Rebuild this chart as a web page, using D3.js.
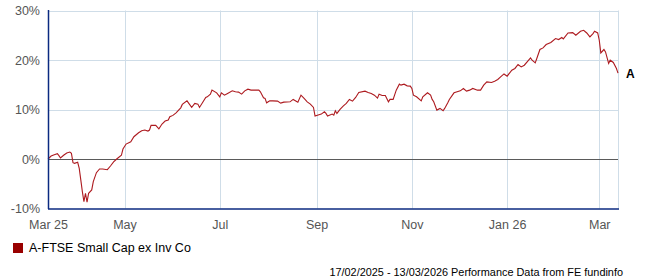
<!DOCTYPE html>
<html>
<head>
<meta charset="utf-8">
<script src="https://cdn.jsdelivr.net/npm/d3@7"></script>
<style>
  body { margin: 0; background: #fff; }
  svg text { font-family: Arial, "Liberation Sans", sans-serif; }
</style>
</head>
<body>
<div id="chart"></div>
<script>
// series: days since start date, cumulative performance %
var startDate = new Date(2025, 2, 13);
var endDate = new Date(2026, 2, 13);

var dayOffsets = [0, 2, 4, 6, 7, 8, 10, 12, 14, 15, 16, 17, 19, 20, 21, 22, 23, 24, 25, 26, 28, 29, 31, 33, 35, 38, 40, 42, 44, 47,
  48, 50, 53, 55, 58, 60, 62, 64, 65, 66, 69, 71, 73, 75, 77, 78, 80, 82, 85, 86, 89, 92, 94, 96, 97, 99, 101, 102, 104, 105, 108, 110,
  111, 113, 115, 118, 120, 122, 124, 126, 128, 130, 135, 136, 138, 139, 140, 142, 144, 147, 149, 151, 155, 157, 160, 162, 164, 166, 168, 170,
  171, 173, 175, 177, 178, 179, 182, 183, 184, 185, 187, 189, 191, 193, 195, 197, 199, 203, 205, 207, 209, 211, 212, 214, 216, 218, 219, 221, 223, 225, 226, 228, 230, 232,
  233, 234, 236, 239, 240, 243, 245, 246, 247, 249, 251, 253, 254, 256, 257, 260, 262, 264, 266, 268, 270, 272, 275, 277, 279, 281, 284, 286, 288,
  290, 292, 294, 297, 299, 301, 303, 305, 309, 310, 312, 313, 315, 317, 319, 322, 325, 327, 329, 330, 333, 336, 338, 341, 343, 345, 347, 349, 350, 352,
  353, 354, 356, 357, 359, 360, 362, 364, 365];

var perfValues = [0, 0.60, 0.87, 1.07, 0.67, 0.20, 0.75, 1.21, 1.41, 1.15, -0.75, -0.87, -0.67, -1.88, -4.23, -6.59, -8.61, -6.92, -8.73, -6.92, -6.25, -4.58, -2.76, -2.02, -2.02, -2.16, -1.41, -0.60, 0.0, 0.75,
  2.02, 3.02, 3.49, 4.50, 5.30, 5.71, 5.85, 5.65, 5.85, 6.79, 6.79, 6.11, 7.06, 7.66, 7.86, 8.53, 8.81, 9.33, 10.34, 11.03, 11.75, 10.42, 11.23, 11.09, 10.42, 11.43, 12.44, 12.56, 13.10, 13.91, 13.37, 12.56,
  13.37, 12.90, 13.25, 13.77, 13.57, 13.51, 13.10, 13.77, 14.11, 13.91, 13.91, 13.57, 12.36, 12.24, 11.35, 11.75, 11.75, 11.69, 11.29, 11.49, 11.55, 12.04, 11.49, 12.90, 12.24, 11.55, 11.09, 10.42,
  8.67, 8.87, 9.07, 9.54, 9.21, 8.67, 9.07, 8.87, 9.74, 9.21, 10.02, 10.69, 11.23, 12.04, 11.69, 12.44, 13.45, 13.71, 13.45, 13.25, 12.90, 12.30, 13.10, 12.84, 12.84, 11.55, 12.04, 12.04, 13.91, 15.12, 14.92, 15.12, 14.78, 14.72,
  14.25, 12.90, 12.56, 11.75, 12.56, 13.37, 12.90, 12.04, 11.55, 9.88, 10.22, 9.74, 10.22, 11.35, 12.04, 13.37, 13.57, 13.77, 14.25, 13.71, 13.91, 14.25, 13.91, 13.91, 14.92, 15.58, 15.46, 15.73, 16.07,
  16.63, 17.18, 16.73, 17.94, 18.29, 19.09, 18.61, 18.95, 20.42, 19.96, 19.42, 20.30, 22.12, 22.44, 23.12, 23.53, 24.33, 24.13, 24.54, 24.25, 25.46, 25.54, 25.00, 25.81, 26.01, 25.46, 24.66, 25.34, 25.81, 25.46,
  23.99, 21.43, 22.12, 21.63, 19.29, 19.96, 19.50, 18.29, 17.34];

var seriesName = "A-FTSE Small Cap ex Inv Co";
var seriesLabel = "A";
var yTicks = [-10, 0, 10, 20, 30];
var xTickDates = [new Date(2025, 2, 13), new Date(2025, 4, 1), new Date(2025, 6, 1), new Date(2025, 8, 1),
  new Date(2025, 10, 1), new Date(2026, 0, 1), new Date(2026, 2, 1)];
var xTickLabels = ["Mar 25", "May", "Jul", "Sep", "Nov", "Jan 26", "Mar"];
var footerText = "17/02/2025 - 13/03/2026 Performance Data from FE fundinfo";

function init() {
  var width = 647;
  var height = 280;
  var left = 48, right = 618, top = 10.5, bottom = 208.5;

  var data = dayOffsets.map(function(d, i) {
    return { date: d3.timeDay.offset(startDate, d), value: perfValues[i] };
  });

  var xScale = d3.scaleTime()
    .domain([startDate, endDate])
    .range([left, right]);

  var yScale = d3.scaleLinear()
    .domain([-10, 30])
    .range([bottom, top]);

  var svg = d3.select("#chart")
    .append("svg")
    .attr("width", width)
    .attr("height", height);

  // horizontal grid
  svg.append("g")
    .selectAll("line")
    .data(yTicks.filter(function(t) { return t != -10 && t != 0; }))
    .enter()
    .append("line")
    .attr("x1", left)
    .attr("x2", right)
    .attr("y1", function(d) { return Math.round(yScale(d)) + 0.5; })
    .attr("y2", function(d) { return Math.round(yScale(d)) + 0.5; })
    .attr("stroke", "#cfdde8")
    .attr("stroke-width", 1);

  // vertical grid
  svg.append("g")
    .selectAll("line")
    .data(xTickDates.slice(1))
    .enter()
    .append("line")
    .attr("x1", function(d) { return Math.round(xScale(d)) + 0.5; })
    .attr("x2", function(d) { return Math.round(xScale(d)) + 0.5; })
    .attr("y1", top)
    .attr("y2", bottom)
    .attr("stroke", "#cfdde8")
    .attr("stroke-width", 1);

  // right border
  svg.append("line")
    .attr("x1", right + 0.5).attr("x2", right + 0.5)
    .attr("y1", top).attr("y2", bottom)
    .attr("stroke", "#cfdde8");

  // zero line
  svg.append("line")
    .attr("x1", left).attr("x2", right)
    .attr("y1", Math.round(yScale(0)) + 0.5)
    .attr("y2", Math.round(yScale(0)) + 0.5)
    .attr("stroke", "#5a5a5a")
    .attr("stroke-width", 1);

  // y axis labels
  var yAxis = d3.axisLeft(yScale)
    .tickValues(yTicks)
    .tickSize(0)
    .tickPadding(8)
    .tickFormat(function(d) { return d + "%"; });

  var gy = svg.append("g")
    .attr("transform", "translate(" + left + ",0)")
    .call(yAxis);
  gy.select(".domain").remove();
  gy.selectAll("text")
    .attr("font-size", "12.5px")
    .attr("font-family", "Arial, 'Liberation Sans', sans-serif")
    .attr("fill", "#555");

  // x axis labels
  var xAxis = d3.axisBottom(xScale)
    .tickValues(xTickDates)
    .tickSize(0)
    .tickPadding(12)
    .tickFormat(function(d, i) { return xTickLabels[i]; });

  var gx = svg.append("g")
    .attr("transform", "translate(0," + bottom + ")")
    .call(xAxis);
  gx.select(".domain").remove();
  gx.selectAll("text")
    .attr("font-size", "12.5px")
    .attr("font-family", "Arial, 'Liberation Sans', sans-serif")
    .attr("fill", "#555");

  // series line
  var line = d3.line()
    .x(function(d) { return xScale(d.date); })
    .y(function(d) { return yScale(d.value); });

  svg.append("path")
    .datum(data)
    .attr("d", line)
    .attr("fill", "none")
    .attr("stroke", "#ad1a1f")
    .attr("stroke-width", 1.1);

  // axis lines
  svg.append("line")
    .attr("x1", left + 0.5).attr("x2", left + 0.5)
    .attr("y1", top - 0.5).attr("y2", bottom + 0.5)
    .attr("stroke", "#0b2a80")
    .attr("stroke-width", 1.5);
  svg.append("line")
    .attr("x1", left).attr("x2", right + 1)
    .attr("y1", bottom + 0.5).attr("y2", bottom + 0.5)
    .attr("stroke", "#0b2a80")
    .attr("stroke-width", 1.5);

  // end label
  var last = data[data.length - 1];
  svg.append("text")
    .attr("x", right + 8)
    .attr("y", yScale(last.value) + 5)
    .attr("font-size", "12px")
    .attr("font-weight", "bold")
    .attr("fill", "#000")
    .text(seriesLabel);

  // legend
  svg.append("rect")
    .attr("x", 13).attr("y", 243)
    .attr("width", 10).attr("height", 10)
    .attr("fill", "#990000");
  svg.append("text")
    .attr("x", 29).attr("y", 252)
    .attr("font-size", "12.5px")
    .attr("fill", "#000")
    .text(seriesName);

  // footer
  svg.append("text")
    .attr("x", 623).attr("y", 276)
    .attr("text-anchor", "end")
    .attr("font-size", "10.9px")
    .attr("fill", "#000")
    .text(footerText);
}
window.onload = init;
</script>
</body>
</html>
